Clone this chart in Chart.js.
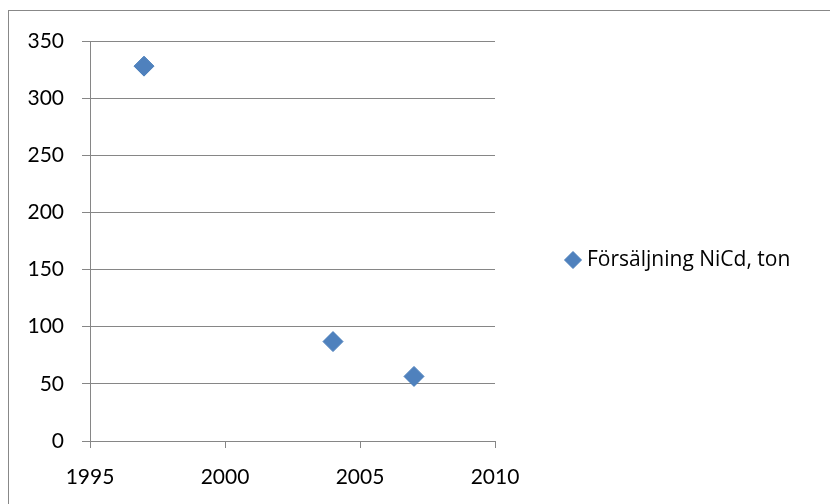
<!DOCTYPE html>
<html>
<head>
<meta charset="utf-8">
<script src="https://cdn.jsdelivr.net/npm/chart.js@4.4.0/dist/chart.umd.min.js"></script>
<style>
  html, body { margin: 0; padding: 0; background: #fff; }
  #wrap { position: relative; width: 830px; height: 504px; }
</style>
</head>
<body>
<div id="wrap"><canvas id="myChart" width="830" height="504"></canvas></div>
<script>
const seriesLabel = "Försäljning NiCd, ton";
const years = [1997, 2004, 2007];
const tons = [328, 87, 56.5];
const xTicks = [1995, 2000, 2005, 2010];
const yTicks = [0, 50, 100, 150, 200, 250, 300, 350];

const font = { family: "Lato", size: 21 };
const gridColor = "#868686";

// outer frame + legend on the right
const extras = {
  id: "extras",
  afterDraw(chart) {
    const ctx = chart.ctx;
    ctx.save();
    ctx.strokeStyle = "#888888";
    ctx.lineWidth = 1;
    ctx.strokeRect(8.5, 10.5, 900, 600);

    const cx = 573, cy = 260, r = 8.5;
    ctx.fillStyle = "#4F81BD";
    ctx.strokeStyle = "#4A7EBB";
    ctx.beginPath();
    ctx.moveTo(cx, cy - r);
    ctx.lineTo(cx + r, cy);
    ctx.lineTo(cx, cy + r);
    ctx.lineTo(cx - r, cy);
    ctx.closePath();
    ctx.fill();
    ctx.stroke();

    ctx.fillStyle = "#000";
    ctx.font = "21px 'Open Sans'";
    ctx.textBaseline = "middle";
    ctx.textAlign = "left";
    ctx.fillText(chart.data.datasets[0].label, 587, cy);
    ctx.restore();
  }
};

const data = {
  datasets: [
    {
      label: seriesLabel,
      data: years.map((y, i) => ({ x: y, y: tons[i] })),
      pointStyle: "rectRot",
      pointRadius: 10,
      pointHoverRadius: 10,
      backgroundColor: "#4F81BD",
      borderColor: "#4A7EBB",
      borderWidth: 1,
    },
  ],
};

const options = {
  responsive: false,
  animation: false,
  layout: { padding: { top: 41, right: 335, left: 0, bottom: 0 } },
  plugins: { legend: { display: false }, tooltip: { enabled: false } },
  scales: {
    x: {
      type: "linear",
      min: 1995,
      max: 2010,
      afterBuildTicks: (s) => { s.ticks = xTicks.map((v) => ({ value: v })); },
      afterFit: (s) => { s.height = 63; },
      ticks: { color: "#000", font, padding: 17, maxRotation: 0, callback: (v) => String(v) },
      grid: { drawOnChartArea: false, drawTicks: true, tickLength: 7, color: gridColor },
      border: { color: gridColor },
    },
    y: {
      min: 0,
      max: 350,
      afterBuildTicks: (s) => { s.ticks = yTicks.map((v) => ({ value: v })); },
      afterFit: (s) => { s.width = 90; },
      ticks: { color: "#000", font, padding: 18 },
      grid: { color: gridColor, tickLength: 8 },
      border: { color: gridColor },
    },
  },
};

const ctx = document.getElementById("myChart").getContext("2d");
new Chart(ctx, { type: "scatter", data, options, plugins: [extras] });
</script>
</body>
</html>
